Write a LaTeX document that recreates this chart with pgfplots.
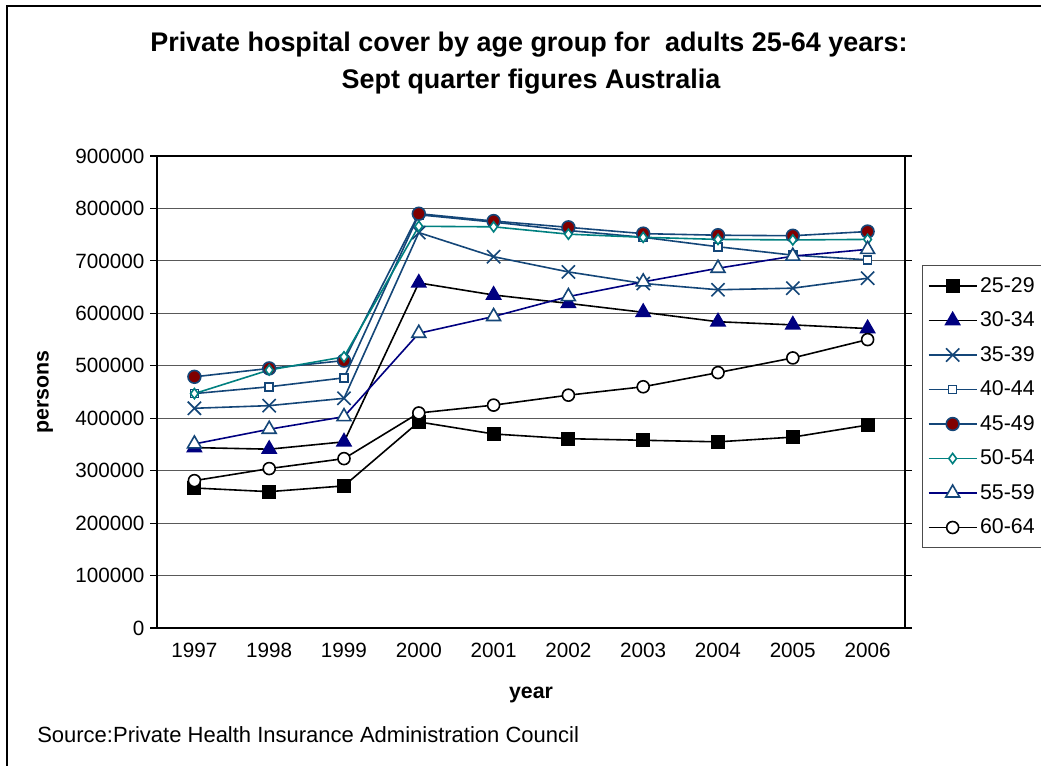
\documentclass[border=0pt]{standalone}
\usepackage{fontspec}
\setmainfont{Liberation Sans}
\usepackage{pgfplots}
\pgfplotsset{compat=1.18}
\definecolor{navyb}{RGB}{0,0,128}
\definecolor{dblue}{RGB}{20,70,120}
\definecolor{dred}{RGB}{128,0,0}
\definecolor{tealc}{RGB}{0,128,128}
\begin{document}
\begin{tikzpicture}[x=0.75pt,y=-0.75pt]
\useasboundingbox (0,0) rectangle (1041,765);
\fill[white] (0,0) rectangle (1041,765);
\draw[black, line width=1.6pt] (7,800) -- (7,6) -- (1100,6);
\node[font=\bfseries\fontsize{20.2}{22}\selectfont] at (529,45)
  {Private hospital cover by age group for\ \ adults 25-64 years:};
\node[font=\bfseries\fontsize{20.2}{22}\selectfont] at (531,82)
  {Sept quarter figures Australia};
\node[font=\bfseries\fontsize{16}{18}\selectfont] at (531,695) {year};
\node[font=\bfseries\fontsize{16}{18}\selectfont, rotate=90] at (45,392) {persons};
\node[font=\fontsize{16.5}{18}\selectfont, anchor=west, inner sep=0pt] at (37,735) {Source:Private Health Insurance Administration Council};
\begin{axis}[
  at={(117.75pt,-471pt)}, anchor=south west,
  width=561pt, height=354pt, scale only axis,
  xmin=1996.5, xmax=2006.5, ymin=0, ymax=900000,
  xtick={1997,...,2006},
  ytick={0,100000,...,900000},
  scaled y ticks=false,
  /pgf/number format/assume math mode=true,
  /pgf/number format/1000 sep={},
  /pgf/number format/fixed,
  tick label style={font=\fontsize{15.5}{17}\selectfont},
  x tick label style={yshift=-3pt},
  y tick label style={xshift=-1pt},
  major tick length=5pt,
  tick align=outside,
  x tick style={draw=none},
  extra x ticks={1996.5,1997.5,...,2006.5},
  extra x tick labels={},
  extra x tick style={tick style={draw=black, line width=0.8pt}, grid=none},
  y tick style={draw=black, line width=0.8pt},
  ymajorgrids,
  grid style={black!65, line width=0.8pt},
  axis line style={black, line width=0.9pt},
  clip=false,
  legend style={at={(axis description cs:1.0227,0.769)}, anchor=north west,
    draw=black!70, line width=0.8pt, font=\fontsize{16}{18}\selectfont,
    cells={anchor=west}, row sep=9.2pt, inner xsep=4pt, inner ysep=7pt},
  legend image code/.code={\draw[mark repeat=2,mark phase=2,#1] plot coordinates {(0pt,0pt) (18pt,0pt) (36pt,0pt)};},
  every axis plot/.append style={line width=1.2pt},
]
\addplot[black, mark=square*, mark size=4.6pt, mark options={fill=black, draw=black}] coordinates {
(1997,267000) (1998,260000) (1999,271000) (2000,393000) (2001,370000) (2002,361000) (2003,358000) (2004,355000) (2005,364000) (2006,387000)};
\addlegendentry{25-29}
\addplot[black, mark=triangle*, mark size=6pt, mark options={fill=navyb, draw=navyb}] coordinates {
(1997,344000) (1998,341000) (1999,355000) (2000,658000) (2001,635000) (2002,619000) (2003,602000) (2004,584000) (2005,578000) (2006,571000)};
\addlegendentry{30-34}
\addplot[dblue, mark=x, mark size=7pt, mark options={draw=dblue}] coordinates {
(1997,419000) (1998,424000) (1999,438000) (2000,754000) (2001,708000) (2002,679000) (2003,657000) (2004,645000) (2005,648000) (2006,667000)};
\addlegendentry{35-39}
\addplot[dblue, mark=square*, mark size=3pt, mark options={fill=white, draw=dblue}] coordinates {
(1997,447000) (1998,460000) (1999,477000) (2000,788000) (2001,774000) (2002,758000) (2003,745000) (2004,727000) (2005,711000) (2006,702000)};
\addlegendentry{40-44}
\addplot[dblue, mark=*, mark size=4.8pt, mark options={fill=dred, draw=dblue}] coordinates {
(1997,479000) (1998,495000) (1999,510000) (2000,790000) (2001,776000) (2002,764000) (2003,752000) (2004,749000) (2005,748000) (2006,756000)};
\addlegendentry{45-49}
\addplot[tealc, mark=diamond*, mark size=3.8pt, mark options={fill=white, draw=tealc}] coordinates {
(1997,447000) (1998,492000) (1999,517000) (2000,766000) (2001,765000) (2002,751000) (2003,745000) (2004,741000) (2005,740000) (2006,741000)};
\addlegendentry{50-54}
\addplot[navyb, mark=triangle*, mark size=6pt, mark options={fill=white, draw=dblue}] coordinates {
(1997,351000) (1998,379000) (1999,403000) (2000,562000) (2001,594000) (2002,632000) (2003,660000) (2004,686000) (2005,709000) (2006,722000)};
\addlegendentry{55-59}
\addplot[black, mark=*, mark size=4.5pt, mark options={fill=white, draw=black}] coordinates {
(1997,281000) (1998,304000) (1999,323000) (2000,410000) (2001,425000) (2002,444000) (2003,460000) (2004,487000) (2005,515000) (2006,550000)};
\addlegendentry{60-64}
\end{axis}
\end{tikzpicture}
\end{document}
